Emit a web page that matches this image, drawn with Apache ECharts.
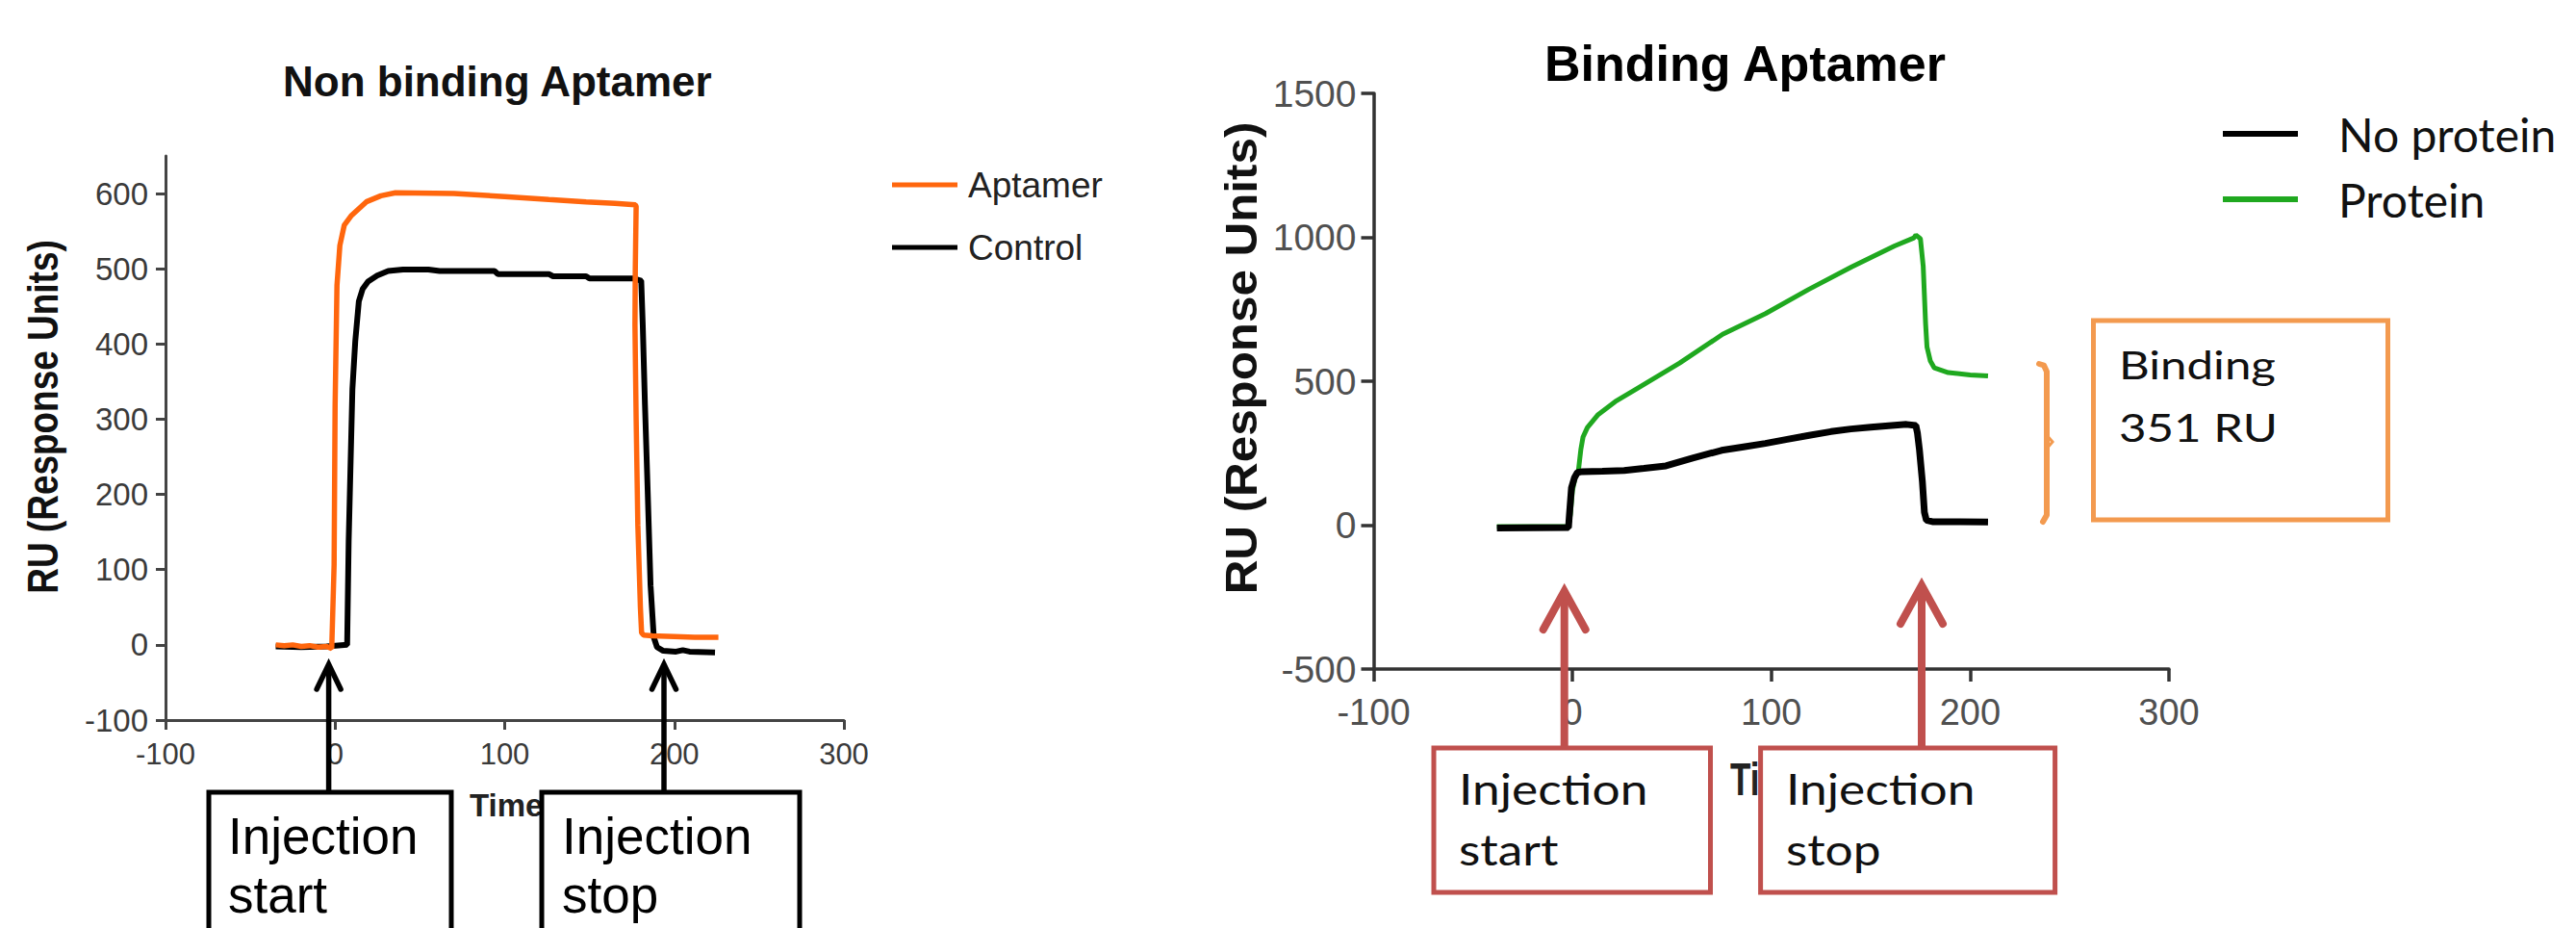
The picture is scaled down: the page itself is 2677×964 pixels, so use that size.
<!DOCTYPE html>
<html>
<head>
<meta charset="utf-8">
<script src="https://cdn.jsdelivr.net/npm/echarts@6/dist/echarts.min.js"></script>
<style>
html,body{margin:0;padding:0;background:#ffffff;}
#c{width:2677px;height:964px;}
</style>
</head>
<body>
<div id="c"></div>
<script>
// ---------- Data ----------
// Left panel: Non binding Aptamer
const aptamerTime = [-35,-30,-25,-20,-15,-10,-5,-2,-0.6,0,1.1,2.8,5.4,9.7,18.4,27,35.6,70,100,126,148,165,177,177.5,177,176.8,177.5,178.5,180,180.7,182,187,200,212,226];
const aptamerRU   = [0,-1,0,-2,-1,-3,-2,-5,106,319,478,531,558,571,589,597,601,600,596,592,589,587,585,583,500,425,300,159,50,16,13,12,11,10,10];
const controlTime = [-35,-20,-5,7.1,8,10.2,11.9,14,16.2,19.4,24.8,31.3,40,55,61.6,94,96,126,128.5,148,150,176,180.5,181.4,182.7,184.2,186,187.9,189.8,193.5,201,205,209,224];
const controlRU   = [-2,-3,-2,0,138,340,404,457,473,483,491,497,499,499,497,497,493,493,490,490,487,487,484,425,319,212,79,10,-3,-8,-9,-7,-9,-10];
// Right panel: Binding Aptamer
const noProteinTime = [-38,-20,-2,-1.5,-0.5,1,2.5,5,15,26,36,47,60,75,86,97,108,119,130,140,150,162,168,172.7,173.5,174.5,176,177,178,181,195,209];
const noProteinRU   = [-10,-9,-8,40,130,165,183,186,187,190,197,206,232,260,272,284,298,312,325,334,340,347,350,346,320,262,150,45,17,12,12,11];
const proteinTime = [-38,-2,-1,0,1.5,3,4.2,5.3,7.5,12.9,21.5,32.3,53.9,75.5,97.1,118.8,140.4,162,171.7,172.7,175,176.4,177,177.6,178.3,180,182,189,200,209];
const proteinRU   = [-5,-5,40,120,170,190,262,306,339,384,429,474,563,663,735,819,897,970,998,1008,995,900,800,700,619,570,546,530,522,518];

const leftYTicks = [-100,0,100,200,300,400,500,600];
const xTicks = [-100,0,100,200,300];
const rightYTicks = [-500,0,500,1000,1500];

const leftTitle = 'Non binding Aptamer';
const rightTitle = 'Binding Aptamer';
const yName = 'RU (Response Units)';
const xName = 'Time';

function zip(t, v) { return t.map((x, i) => [x, v[i]]); }
const plain = v => String(v);

// ---------- Chart ----------
const chart = echarts.init(document.getElementById('c'), null, {renderer: 'svg', width: 2677, height: 964});

const SANS = '"Liberation Sans", Arial, sans-serif';
const CAL = 'Lato, "Open Sans", sans-serif';

function axisBase(color, w, tickLen) {
  return {
    axisLine: {show: true, onZero: false, lineStyle: {color: color, width: w}},
    axisTick: {show: true, inside: false, length: tickLen, lineStyle: {color: color, width: w}},
    splitLine: {show: false}
  };
}

function arrow(x, tip, base, half, head, color, lw) {
  return [
    {type: 'line', z: 30, shape: {x1: x, y1: tip + 2, x2: x, y2: base},
     style: {stroke: color, lineWidth: lw}},
    {type: 'polyline', z: 30, shape: {points: [[x - half, tip + head], [x, tip], [x + half, tip + head]]},
     style: {stroke: color, lineWidth: lw, fill: null, lineJoin: 'miter', lineCap: 'round'}}
  ];
}
function box(x, y, w, h, color, lw, fill) {
  return {type: 'rect', z: 31, shape: {x: x, y: y, width: w, height: h},
          style: {fill: fill, stroke: color, lineWidth: lw}};
}
function txt(s, x, y, font, color, opts) {
  const o = Object.assign({type: 'text', z: 32, x: x, y: y,
    style: {text: s, font: font, fill: color, align: 'left', verticalAlign: 'middle'}}, opts || {});
  return o;
}

const RED = '#c0504d';
const ORANGE_BOX = '#f39a4f';

const graphics = [].concat(
  // axis titles
  [txt(yName, 45, 433, 'bold 44px ' + SANS, '#111', {rotation: Math.PI / 2, scaleX: 0.84, style: {text: yName, font: 'bold 44px ' + SANS, fill: '#111', align: 'center', verticalAlign: 'middle'}})],
  [txt(yName, 1289, 372, 'bold 47px ' + SANS, '#111', {rotation: Math.PI / 2, scaleX: 1.05, style: {text: yName, font: 'bold 47px ' + SANS, fill: '#111', align: 'center', verticalAlign: 'middle'}})],
  [txt(xName, 488, 836, 'bold 33px ' + SANS, '#222', {z: 15})],
  [txt(xName, 1798, 810, 'bold 35px ' + SANS, '#222', {z: 15, scaleY: 1.35})],
  // left annotations
  arrow(341.6, 690, 823, 12.5, 26, '#000', 5.5),
  arrow(690, 690, 823, 12.5, 26, '#000', 5.5),
  [box(217, 823, 252, 220, '#000', 5, '#fff'), box(563, 823, 268, 220, '#000', 5, '#fff')],
  [txt('Injection', 237, 868, '53px ' + SANS, '#000'), txt('start', 237, 929, '53px ' + SANS, '#000'),
   txt('Injection', 584, 868, '53px ' + SANS, '#000'), txt('stop', 584, 929, '53px ' + SANS, '#000')],
  // right annotations
  arrow(1625.7, 614, 777, 22, 40, RED, 8),
  arrow(1997, 608, 777, 22, 40, RED, 8),
  [box(1490, 777, 287.5, 150, RED, 5, '#fff'), box(1829.6, 777, 306, 150, RED, 5, '#fff')],
  [txt('Injection', 1516, 819, '44px ' + CAL, '#111', {scaleX: 1.17}), txt('start', 1516, 882, '44px ' + CAL, '#111', {scaleX: 1.17}),
   txt('Injection', 1856, 819, '44px ' + CAL, '#111', {scaleX: 1.17}), txt('stop', 1856, 882, '44px ' + CAL, '#111', {scaleX: 1.17})],
  [box(2175.5, 333, 306, 207, ORANGE_BOX, 5, null)],
  [txt('Binding', 2202, 379, '40px ' + CAL, '#111', {scaleX: 1.23}), txt('351 RU', 2202, 444, '40px ' + CAL, '#111', {scaleX: 1.23})],
  [{type: 'polyline', z: 30, shape: {points: [[2119, 378], [2124, 379.5], [2127, 386], [2127, 535], [2123, 542]]},
    style: {stroke: ORANGE_BOX, lineWidth: 6, fill: null, lineJoin: 'round', lineCap: 'round'}},
   {type: 'polyline', z: 30, shape: {points: [[2127, 452], [2133, 459], [2127, 466]]},
    style: {stroke: ORANGE_BOX, lineWidth: 3, fill: null}}]
);

const option = {
  backgroundColor: '#ffffff',
  animation: false,
  title: [
    {text: leftTitle, left: 294, top: 62, padding: 0,
     textStyle: {fontFamily: SANS, fontWeight: 'bold', fontSize: 44, color: '#111'}},
    {text: rightTitle, left: 1605, top: 40, padding: 0,
     textStyle: {fontFamily: SANS, fontWeight: 'bold', fontSize: 52, color: '#000'}}
  ],
  legend: [
    {data: ['Aptamer', 'Control'], orient: 'vertical', left: 927, top: 172, padding: 0,
     icon: 'rect', itemWidth: 68, itemHeight: 5, itemGap: 25,
     textStyle: {fontFamily: SANS, fontSize: 37, color: '#222', lineHeight: 40, padding: [0, 0, 0, 6]}},
    {data: ['No protein', 'Protein'], orient: 'vertical', left: 2310, top: 115, padding: 0,
     icon: 'rect', itemWidth: 78, itemHeight: 6, itemGap: 20,
     textStyle: {fontFamily: CAL, fontSize: 48, color: '#111', lineHeight: 48, padding: [0, 0, 0, 37]}}
  ],
  grid: [
    {left: 172, top: 162, width: 705, height: 586},
    {left: 1427.5, top: 97, width: 826.5, height: 598}
  ],
  xAxis: [
    Object.assign(axisBase('#444', 3, 10), {
      type: 'value', gridIndex: 0, min: -100, max: 300, interval: 100,
      axisLabel: {fontFamily: SANS, fontSize: 31, color: '#3a3a3a', margin: 20, customValues: xTicks, formatter: plain}
    }),
    Object.assign(axisBase('#333', 3.5, 13), {
      type: 'value', gridIndex: 1, min: -100, max: 300, interval: 100,
      axisLabel: {fontFamily: SANS, fontSize: 38, color: '#505050', margin: 26, customValues: xTicks, formatter: plain}
    })
  ],
  yAxis: [
    Object.assign(axisBase('#444', 3, 10), {
      type: 'value', gridIndex: 0, min: -100, max: 650, interval: 100,
      axisTick: {show: true, length: 10, customValues: leftYTicks, lineStyle: {color: '#444', width: 3}},
      axisLabel: {fontFamily: SANS, fontSize: 33, color: '#3a3a3a', margin: 18, customValues: leftYTicks, formatter: plain}
    }),
    Object.assign(axisBase('#333', 3.5, 13), {
      type: 'value', gridIndex: 1, min: -500, max: 1500, interval: 500,
      axisLabel: {fontFamily: SANS, fontSize: 39, color: '#505050', margin: 18, customValues: rightYTicks, formatter: plain}
    })
  ],
  series: [
    {name: 'Aptamer', type: 'line', xAxisIndex: 0, yAxisIndex: 0, data: zip(aptamerTime, aptamerRU),
     showSymbol: false, symbol: 'none', z: 4, color: '#ff660d', lineStyle: {color: '#ff660d', width: 5.5}},
    {name: 'Control', type: 'line', xAxisIndex: 0, yAxisIndex: 0, data: zip(controlTime, controlRU),
     showSymbol: false, symbol: 'none', z: 3, color: '#000000', lineStyle: {color: '#000000', width: 6}},
    {name: 'No protein', type: 'line', xAxisIndex: 1, yAxisIndex: 1, data: zip(noProteinTime, noProteinRU),
     showSymbol: false, symbol: 'none', z: 4, color: '#000000', lineStyle: {color: '#000000', width: 7}},
    {name: 'Protein', type: 'line', xAxisIndex: 1, yAxisIndex: 1, data: zip(proteinTime, proteinRU),
     showSymbol: false, symbol: 'none', z: 3, color: '#1fa81f', lineStyle: {color: '#1fa81f', width: 5}}
  ],
  graphic: graphics
};
chart.setOption(option);
</script>
</body>
</html>
